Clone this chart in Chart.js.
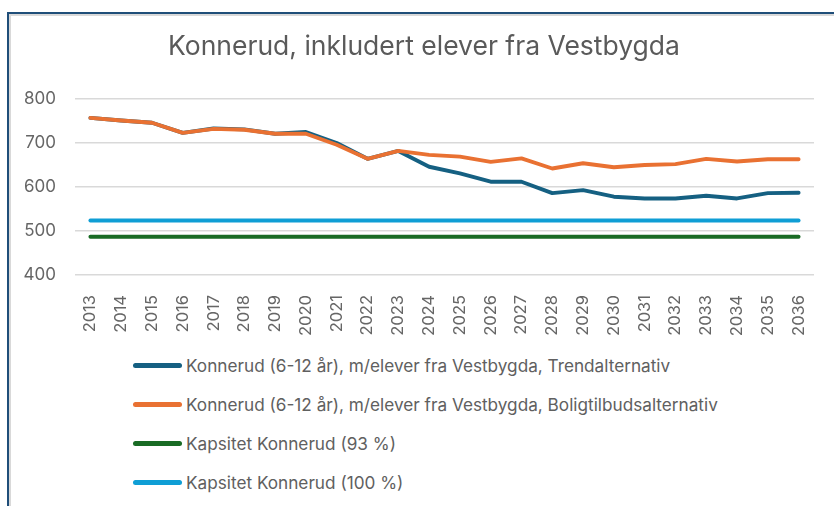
<!DOCTYPE html>
<html>
<head>
<meta charset="utf-8">
<script src="https://cdn.jsdelivr.net/npm/chart.js@4.4.1/dist/chart.umd.min.js"></script>
<style>
    html, body { margin: 0; padding: 0; background: #fff; }
    #page { position: relative; width: 834px; height: 506px; overflow: hidden; background: #fff; }
    /* chart frame, only top and left edge are visible */
    #frame {
        position: absolute; left: 7px; top: 12px; width: 900px; height: 600px;
        border-left: 2px solid #1f4e79; border-top: 2px solid #1f4e79;
        box-shadow: inset 2px 2px 0 #d9d9d9;
    }
    #chartBox { position: absolute; left: 0; top: 0; width: 834px; height: 340px; }
    #legend {
        position: absolute; left: 133px; top: 346px; margin: 0; padding: 0; list-style: none;
        font-family: Inter, sans-serif; font-size: 17.2px; color: #606060;
    }
    #legend li { display: flex; align-items: center; height: 39px; white-space: nowrap; }
    #legend .swatch { width: 49px; height: 5px; border-radius: 3px; margin-right: 4px; }
</style>
</head>
<body>
<div id="page">
    <div id="frame"></div>
    <div id="chartBox"><canvas id="chart"></canvas></div>
    <ul id="legend"></ul>
</div>
<script>
const years = ['2013', '2014', '2015', '2016', '2017', '2018', '2019', '2020', '2021', '2022', '2023', '2024',
               '2025', '2026', '2027', '2028', '2029', '2030', '2031', '2032', '2033', '2034', '2035', '2036'];

// Trendalternativ
const trendValues = [757, 751, 746, 723, 733, 731, 721, 725, 700, 664, 682, 646,
                     631, 612, 612, 586, 593, 578, 574, 574, 580, 574, 586, 587];

// Boligtilbudsalternativ
const boligValues = [757, 751, 746, 723, 732, 730, 721, 721, 696, 664, 682, 673,
                     669, 657, 665, 642, 654, 645, 650, 652, 664, 658, 663, 663];

const capacity93 = [487, 487, 487, 487, 487, 487, 487, 487, 487, 487, 487, 487,
                    487, 487, 487, 487, 487, 487, 487, 487, 487, 487, 487, 487];

const capacity100 = [524, 524, 524, 524, 524, 524, 524, 524, 524, 524, 524, 524,
                     524, 524, 524, 524, 524, 524, 524, 524, 524, 524, 524, 524];

const seriesLabels = [
    'Konnerud (6-12 år), m/elever fra Vestbygda, Trendalternativ',
    'Konnerud (6-12 år), m/elever fra Vestbygda, Boligtilbudsalternativ',
    'Kapsitet Konnerud (93 %)',
    'Kapsitet Konnerud (100 %)'
];

const yTicks = { min: 400, max: 800, step: 100 };

function lineSet(label, data, colour, order) {
    return {
        label: label,
        data: data,
        borderColor: colour,
        backgroundColor: colour,
        borderWidth: 3.9,
        borderCapStyle: 'round',
        borderJoinStyle: 'round',
        pointRadius: 0,
        tension: 0,
        fill: false,
        order: order
    };
}

function buildLegend(chart) {
    let list = document.getElementById('legend');
    chart.data.datasets.forEach(function (ds) {
        let li = document.createElement('li');
        let sw = document.createElement('span');
        sw.className = 'swatch';
        sw.style.background = ds.borderColor;
        let txt = document.createElement('span');
        txt.textContent = ds.label;
        li.appendChild(sw);
        li.appendChild(txt);
        list.appendChild(li);
    });
}

function drawChart() {
    let ctx = document.getElementById('chart').getContext('2d');
    let chart = new Chart(ctx, {
        type: 'line',
        data: {
            labels: years,
            datasets: [
                lineSet(seriesLabels[0], trendValues, '#156082', 2),
                // orange sits on top of the blue line
                lineSet(seriesLabels[1], boligValues, '#E97132', 1),
                lineSet(seriesLabels[2], capacity93, '#196B24', 3),
                lineSet(seriesLabels[3], capacity100, '#0F9ED5', 4)
            ]
        },
        options: {
            responsive: true,
            maintainAspectRatio: false,
            animation: false,
            layout: { padding: { left: 15, right: 1, top: 14, bottom: 5 } },
            plugins: {
                legend: { display: false },
                tooltip: { enabled: false },
                title: {
                    display: true,
                    text: 'Konnerud, inkludert elever fra Vestbygda',
                    color: '#5a5a5a',
                    font: { family: 'Inter', size: 26.5, weight: 'normal', lineHeight: 1.2 },
                    padding: { top: 17, bottom: 36.2 }
                }
            },
            scales: {
                x: {
                    offset: true,
                    grid: { display: false },
                    border: { display: false },
                    ticks: {
                        color: '#666',
                        font: { family: 'Inter', size: 16.5 },
                        minRotation: 90,
                        maxRotation: 90,
                        autoSkip: false,
                        padding: 12
                    },
                    afterFit: function (scale) { scale.height = 60; }
                },
                y: {
                    min: yTicks.min,
                    max: yTicks.max,
                    ticks: {
                        stepSize: yTicks.step,
                        color: '#666',
                        font: { family: 'Inter', size: 17 },
                        padding: 19
                    },
                    grid: { color: '#d9d9d9', lineWidth: 1.5, drawTicks: false },
                    border: { display: false },
                    afterFit: function (scale) { scale.width = 60; }
                },
                // empty strip on the right so the title centres on the frame
                yRight: {
                    position: 'right',
                    min: yTicks.min,
                    max: yTicks.max,
                    grid: { display: false, drawTicks: false },
                    border: { display: false },
                    ticks: { display: false },
                    afterFit: function (scale) { scale.width = 19; }
                }
            }
        }
    });
    buildLegend(chart);
}

document.fonts.load('16px Inter').then(drawChart, drawChart);
</script>
</body>
</html>
